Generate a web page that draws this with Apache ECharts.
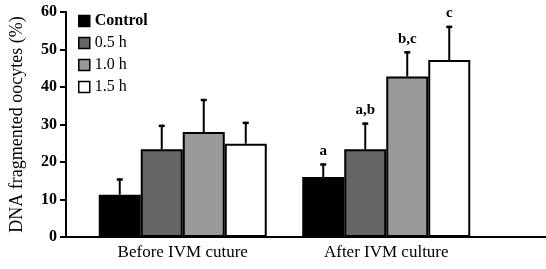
<!DOCTYPE html>
<html><head><meta charset="utf-8">
<script src="https://cdn.jsdelivr.net/npm/echarts@6/dist/echarts.min.js"></script>
<style>html,body{margin:0;padding:0;background:#fff}#c{width:546px;height:269px}</style>
</head><body><div id="c"></div>
<script>
const categories = ['Before IVM cuture', 'After IVM culture'];
const seriesNames = ['Control', '0.5 h', '1.0 h', '1.5 h'];
const seriesColors = ['#000000', '#666666', '#999999', '#ffffff'];
const controlMean = [11.3, 16.0];
const h05Mean = [23.4, 23.4];
const h10Mean = [28.0, 42.8];
const h15Mean = [24.9, 47.2];
const controlErr = [4.3, 3.6];
const h05Err = [6.5, 7.1];
const h10Err = [8.8, 6.7];
const h15Err = [5.8, 9.1];
const controlLetters = ['', 'a'];
const h05Letters = ['', 'a,b'];
const h10Letters = ['', 'b,c'];
const h15Letters = ['', 'c'];
const yTicks = [0, 10, 20, 30, 40, 50, 60];

const means = [controlMean, h05Mean, h10Mean, h15Mean];
const errs = [controlErr, h05Err, h10Err, h15Err];
const letters = [controlLetters, h05Letters, h10Letters, h15Letters];
const BW = 42;
const FONT = 'Liberation Serif';

const errData = [];
means.forEach((m, s) => m.forEach((v, c) => errData.push([c, v, errs[s][c], s, letters[s][c]])));

const chart = echarts.init(document.getElementById('c'), null, {renderer: 'canvas'});
chart.setOption({
  animation: false,
  backgroundColor: '#fff',
  textStyle: {fontFamily: FONT},
  grid: [
    {left: 63, right: 0, top: 12, bottom: 32},
    {left: 81, right: 58, top: 12, bottom: 32}
  ],
  legend: {
    left: 73, top: 8, orient: 'vertical', itemWidth: 11, itemHeight: 11, itemGap: 6, itemTextGap: 9,
    icon: 'rect',
    data: seriesNames.map((n, i) => ({name: n, textStyle: {fontFamily: FONT, fontSize: 16, color: '#000',
      fontWeight: i === 0 ? 'bold' : 'normal', lineHeight: 16}})),
    itemStyle: {borderWidth: 1.5, borderColor: '#000'},
    textStyle: {fontFamily: FONT, fontSize: 16, color: '#000', lineHeight: 16}
  },
  xAxis: [
    {gridIndex: 0, type: 'value', min: 0, max: 1, axisLine: {show: true, lineStyle: {color: '#000', width: 2}},
      axisTick: {show: false}, axisLabel: {show: false}, splitLine: {show: false}},
    {gridIndex: 1, type: 'category', data: categories, axisLine: {show: false}, axisTick: {show: false},
      axisLabel: {fontFamily: FONT, fontSize: 17, color: '#000', margin: 7}}
  ],
  yAxis: [
    {gridIndex: 0, type: 'value', min: 0, max: 60, interval: 10,
      name: 'DNA fragmented oocytes (%)', nameLocation: 'middle', nameGap: 40,
      nameTextStyle: {fontFamily: FONT, fontSize: 18, color: '#000'},
      axisLine: {show: true, lineStyle: {color: '#000', width: 2}},
      axisTick: {show: true, length: 6, lineStyle: {color: '#000', width: 2}},
      axisLabel: {fontFamily: FONT, fontSize: 16, fontWeight: 'bold', color: '#000', margin: 9,
        formatter: v => yTicks.includes(v) ? String(v) : ''},
      splitLine: {show: false}},
    {gridIndex: 1, type: 'value', min: 0, max: 60, interval: 10, show: false, splitLine: {show: false}}
  ],
  series: means.map((m, s) => ({
    name: seriesNames[s], type: 'bar', xAxisIndex: 1, yAxisIndex: 1,
    data: m, barWidth: BW, barGap: '0%',
    itemStyle: {color: seriesColors[s], borderColor: '#000', borderWidth: 2}
  })).concat([{
    type: 'custom', xAxisIndex: 1, yAxisIndex: 1, z: 10, data: errData,
    renderItem: (params, api) => {
      const c = api.value(0), v = api.value(1), e = api.value(2), s = api.value(3);
      const lab = errData[params.dataIndex][4];
      const p0 = api.coord([c, v]);
      const p1 = api.coord([c, v + e]);
      const x = p0[0] + (s - 1.5) * BW;
      const children = [
        {type: 'line', shape: {x1: x, y1: p0[1], x2: x, y2: p1[1]}, style: {stroke: '#000', lineWidth: 2}},
        {type: 'line', shape: {x1: x - 3, y1: p1[1] + 1, x2: x + 3, y2: p1[1] + 1}, style: {stroke: '#000', lineWidth: 2.5}}
      ];
      if (lab) children.push({type: 'text', style: {text: lab, x: x, y: p1[1] - 5, align: 'center', verticalAlign: 'bottom',
        font: 'bold 15px "Liberation Serif"', fill: '#000'}});
      return {type: 'group', children};
    }
  }])
});
</script></body></html>
